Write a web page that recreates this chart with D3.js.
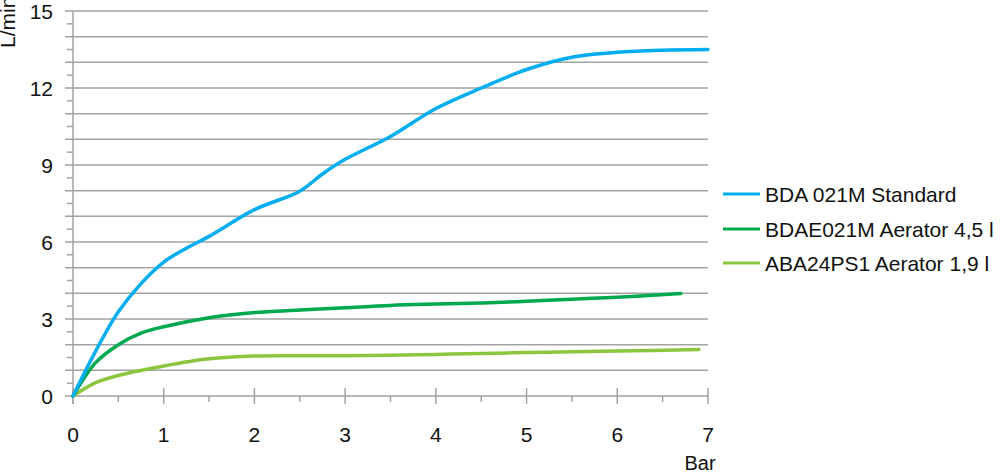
<!DOCTYPE html>
<html>
<head>
<meta charset="utf-8">
<script src="https://cdn.jsdelivr.net/npm/d3@7"></script>
<style>
  html, body { margin: 0; padding: 0; background: #fff; }
  svg { display: block; }
  text { font-family: "Liberation Sans", Arial, sans-serif; fill: #111; }
</style>
</head>
<body>
<svg id="chart" width="1000" height="475"></svg>
<script>
// ---- data ----
const seriesNames = ["BDA 021M Standard", "BDAE021M Aerator 4,5 l", "ABA24PS1 Aerator 1,9 l"];
const seriesColors = ["#00aeef", "#00a94f", "#8cc63f"];

const blueX = [0, 0.25, 0.5, 0.75, 1, 1.25, 1.5, 2, 2.5, 2.75, 3, 3.5, 4, 4.5, 5, 5.5, 6, 6.5, 7];
const blueY = [0, 1.75, 3.28, 4.38, 5.22, 5.76, 6.22, 7.26, 7.98, 8.65, 9.22, 10.11, 11.2, 12.0, 12.72, 13.2, 13.39, 13.47, 13.5];

const darkX = [0, 0.25, 0.5, 0.75, 1, 1.5, 2, 2.5, 3, 3.5, 4, 4.5, 5, 5.5, 6, 6.7];
const darkY = [0, 1.3, 2.0, 2.45, 2.7, 3.05, 3.25, 3.35, 3.44, 3.53, 3.58, 3.62, 3.69, 3.77, 3.85, 3.99];

const lightX = [0, 0.25, 0.5, 1, 1.5, 2, 2.5, 3, 3.5, 4, 4.5, 5, 5.5, 6, 6.9];
const lightY = [0, 0.52, 0.8, 1.17, 1.45, 1.56, 1.57, 1.57, 1.59, 1.62, 1.66, 1.69, 1.72, 1.75, 1.81];

const xTickLabels = [0, 1, 2, 3, 4, 5, 6, 7];
const yTickLabels = [0, 3, 6, 9, 12, 15];
const xTitle = "Bar";
const yTitle = "L/min";

// ---- chart ----
const svg = d3.select("#chart");
const x = d3.scaleLinear().domain([0, 7]).range([73, 708]);
const y = d3.scaleLinear().domain([0, 15]).range([396, 11]);
const gridColor = "#a3a3a3";

// horizontal gridlines every 1
const gridVals = d3.range(0, 16, 1);
svg.append("g").selectAll("line").data(gridVals).join("line")
  .attr("x1", 65).attr("x2", x(7))
  .attr("y1", d => y(d)).attr("y2", d => y(d))
  .attr("stroke", gridColor).attr("stroke-width", 1.5);

// y minor ticks at half values
svg.append("g").selectAll("line").data(d3.range(0.5, 15, 1)).join("line")
  .attr("x1", 67).attr("x2", x(0))
  .attr("y1", d => y(d)).attr("y2", d => y(d))
  .attr("stroke", gridColor).attr("stroke-width", 1.5);

// y axis line
svg.append("line")
  .attr("x1", x(0)).attr("x2", x(0))
  .attr("y1", y(15)).attr("y2", y(0) + 8)
  .attr("stroke", gridColor).attr("stroke-width", 1.5);

// x major ticks
svg.append("g").selectAll("line").data(xTickLabels).join("line")
  .attr("x1", d => x(d)).attr("x2", d => x(d))
  .attr("y1", y(0) - 8).attr("y2", y(0) + 8)
  .attr("stroke", gridColor).attr("stroke-width", 1.5);
// x minor ticks
svg.append("g").selectAll("line").data(d3.range(0.5, 7, 1)).join("line")
  .attr("x1", d => x(d)).attr("x2", d => x(d))
  .attr("y1", y(0)).attr("y2", y(0) + 6)
  .attr("stroke", gridColor).attr("stroke-width", 1.5);

// tick labels
svg.append("g").selectAll("text").data(yTickLabels).join("text")
  .attr("x", 53).attr("y", d => y(d))
  .attr("text-anchor", "end").attr("dominant-baseline", "central")
  .attr("font-size", 21).text(d => d);

svg.append("g").selectAll("text").data(xTickLabels).join("text")
  .attr("x", d => x(d)).attr("y", 442)
  .attr("text-anchor", "middle")
  .attr("font-size", 21).text(d => d);

// axis titles
svg.append("text").attr("x", 700).attr("y", 470)
  .attr("text-anchor", "middle").attr("font-size", 20).text(xTitle);
svg.append("text")
  .attr("transform", "translate(15,48) rotate(-90)")
  .attr("text-anchor", "start").attr("font-size", 21).text(yTitle);

// lines
const line = d3.line().x(d => x(d[0])).y(d => y(d[1])).curve(d3.curveCatmullRom.alpha(0.5));
const series = [
  d3.zip(blueX, blueY),
  d3.zip(darkX, darkY),
  d3.zip(lightX, lightY)
];
// draw light first so blue on top
[2, 1, 0].forEach(i => {
  svg.append("path").datum(series[i])
    .attr("d", line)
    .attr("fill", "none")
    .attr("stroke", seriesColors[i])
    .attr("stroke-width", 3.5)
    .attr("stroke-linecap", "round")
    .attr("stroke-linejoin", "round");
});

// legend
const legendY = [194, 229, 263];
const lg = svg.append("g");
seriesNames.forEach((name, i) => {
  lg.append("line")
    .attr("x1", 723).attr("x2", 760)
    .attr("y1", legendY[i]).attr("y2", legendY[i])
    .attr("stroke", seriesColors[i]).attr("stroke-width", 3);
  lg.append("text")
    .attr("x", 765).attr("y", legendY[i])
    .attr("dominant-baseline", "central")
    .attr("font-size", 21).text(name);
});
</script>
</body>
</html>
